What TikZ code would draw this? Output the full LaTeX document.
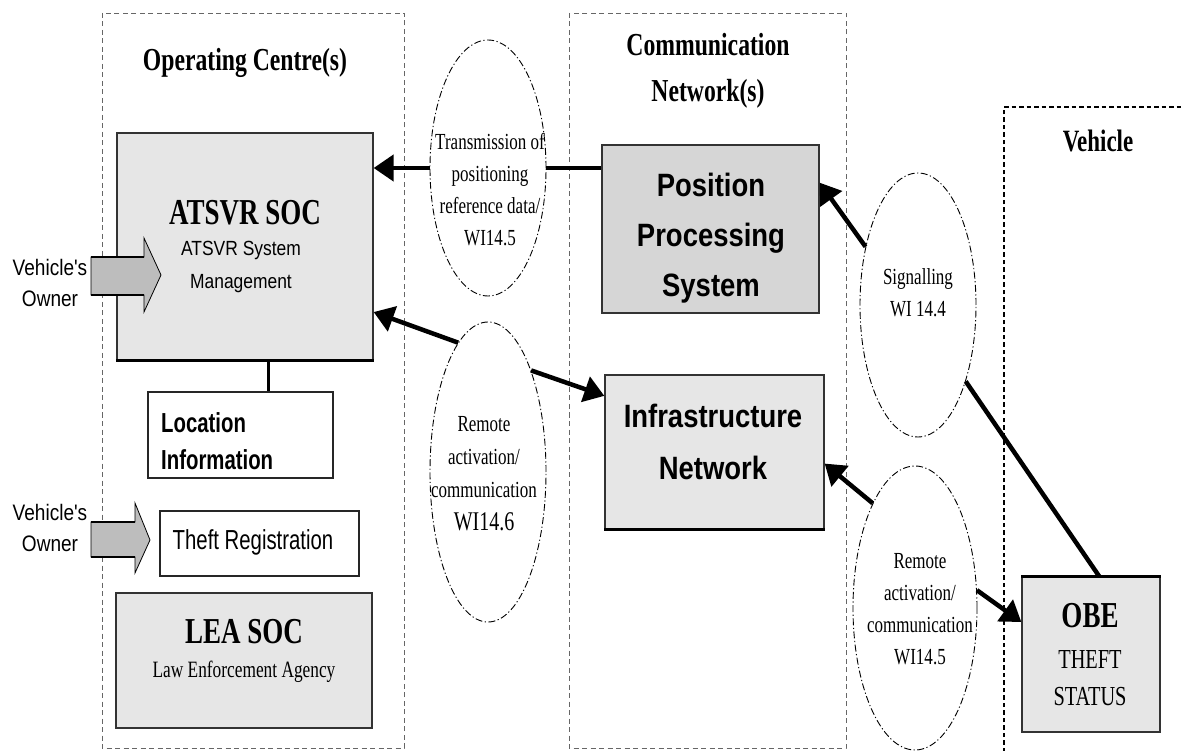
\documentclass[tikz,border=0pt]{standalone}
\usepackage{fontspec}
\setmainfont{Liberation Serif}
\newfontfamily\serifc[FakeStretch=0.74]{Liberation Serif}
\newfontfamily\sansc[FakeStretch=0.85]{Liberation Sans}
\newfontfamily\sansn[FakeStretch=0.74]{Liberation Sans}
\usetikzlibrary{arrows.meta,shapes.geometric,calc}
\definecolor{boxgray}{HTML}{E6E6E6}
\definecolor{ppsgray}{HTML}{D6D6D6}
\definecolor{ownergray}{HTML}{BDBDBD}
\newcommand{\fs}[2]{\fontsize{#1}{#2}\selectfont}
\begin{document}
\begin{tikzpicture}[x=1pt,y=-1pt,
  frame/.style={draw=black!60, line width=0.9pt, dash pattern=on 5pt off 3.5pt},
  vframe/.style={draw=black, line width=1.3pt, dash pattern=on 4.5pt off 3pt},
  box/.style={draw=black!80, line width=1.3pt, fill=boxgray, inner sep=0pt},
  wbox/.style={draw=black!85, line width=1.5pt, fill=white, inner sep=0pt},
  bubble/.style={ellipse, draw=black, line width=0.9pt, dash pattern=on 7pt off 2.5pt on 1.2pt off 2.5pt, inner sep=0pt},
  conn/.style={line width=4.5pt, draw=black},
  tip/.style={-{Triangle[length=20pt,width=26pt]}},
  owner/.style={fill=ownergray, draw=black, line width=0.8pt},
  lbl/.style={inner sep=0pt, align=center},
]
\useasboundingbox (0,0) rectangle (1184,751);
\fill[white] (0,0) rectangle (1184,751);

% frames
\draw[frame] (102,13) rectangle (404,748);
\draw[frame] (569,13) rectangle (846,748);
\draw[vframe] (1004,752) -- (1004,107) -- (1190,107);

% titles
\node[lbl, font=\serifc\bfseries\fs{32}{46}] (optitle) at (245,63) {Operating Centre(s)};
\node[lbl, font=\serifc\bfseries\fs{32}{46}] (commtitle) at (708,71) {Communication\\Network(s)};
\node[lbl, font=\serifc\bfseries\fs{31}{46}] (vehtitle) at (1098,141) {Vehicle};

% boxes
\node[box, minimum width=256pt, minimum height=227pt] (atsvr) at (245,246.5) {};
\draw[line width=3pt] (atsvr.south west) -- (atsvr.south east);
\node[lbl, font=\serifc\bfseries\fs{36.5}{40}] (atsvrT) at (245,213) {ATSVR SOC};
\node[lbl, font=\sansc\fs{20.5}{33}] (atsvrS) at (241,266.5) {ATSVR System\\Management};

\node[wbox, minimum width=185pt, minimum height=86pt] (loc) at (240.5,435) {};
\node[lbl, align=left, anchor=west, font=\sansn\bfseries\fs{27.5}{37}] (locT) at (161,441.5) {Location\\Information};
\coordinate (conx) at (268,0);
\draw[line width=3pt] (atsvr.south -| conx) -- (loc.north -| conx);

\node[wbox, line width=2pt, minimum width=199pt, minimum height=65pt] (theft) at (259.5,543.5) {};
\node[lbl, font=\sansn\fs{27.5}{30}] (theftT) at (253,542) {Theft Registration};

\node[box, minimum width=256pt, minimum height=135pt] (lea) at (244,660.5) {};
\node[lbl, font=\serifc\bfseries\fs{36.5}{40}] (leaT) at (244,632) {LEA SOC};
\node[lbl, font=\serifc\fs{23.4}{26}] (leaS) at (244,672) {Law Enforcement Agency};

\node[box, fill=ppsgray, minimum width=217pt, minimum height=168pt] (pps) at (710.5,229) {};
\node[lbl, font=\sansc\bfseries\fs{32.3}{50}] (ppsT) at (711,238) {Position\\Processing\\System};

\node[box, minimum width=219pt, minimum height=154pt] (infra) at (714.5,452) {};
\draw[line width=2.5pt] (infra.south west) -- (infra.south east);
\node[lbl, font=\sansc\bfseries\fs{32.3}{52}] (infraT) at (713,442) {Infrastructure\\Network};

\node[box, minimum width=138pt, minimum height=155pt] (obe) at (1091,654.5) {};
\draw[line width=3pt] (obe.north west) -- (obe.north east);
\node[lbl, font=\serifc\bfseries\fs{36.5}{40}] (obeT) at (1090,616) {OBE};
\node[lbl, font=\serifc\fs{27.5}{37}] (obeS) at (1090,678) {THEFT\\STATUS};

% bubbles
\node[bubble, minimum width=116pt, minimum height=256pt] (e1) at (488,168) {};
\node[lbl, font=\serifc\fs{23}{32}] (e1T) at (490,190) {Transmission of\\positioning\\reference data/\\WI14.5};
\node[bubble, minimum width=116pt, minimum height=300pt] (e2) at (488,472) {};
\node[lbl, font=\serifc\fs{23}{33}] (e2T) at (484,474) {Remote\\activation/\\communication\\{\fs{27}{33}WI14.6}};
\node[bubble, minimum width=116pt, minimum height=264pt] (e3) at (918,305) {};
\node[lbl, font=\serifc\fs{23}{32}] (e3T) at (918,293) {Signalling\\WI 14.4};
\node[bubble, minimum width=124pt, minimum height=284pt] (e4) at (915,608) {};
\node[lbl, font=\serifc\fs{23}{32}] (e4T) at (920,609) {Remote\\activation/\\communication\\WI14.5};

% connectors
\draw[conn,tip] (e1.west) -- (e1.west -| atsvr.east);
\draw[conn] (e1.east) -- (e1.east -| pps.west);
\draw[conn,tip] (e2.103) -- (atsvr.-27.1);
\draw[conn,tip] (e2.67.2) -- (infra.153.3);
\draw[conn,tip] (e3.132.9) -- (pps.23);
\draw[conn] (e3.-58.9) -- (obe.84.8);
\draw[conn,tip] (e4.112.6) -- (infra.-6.8);
\draw[conn,tip] (e4.16.2) -- (obe.155.5);

% vehicle's owner block arrows
\draw[owner] (91,257) -- (144,257) -- (144,238) -- (161,275) -- (144,312) -- (144,295) -- (91,295) -- cycle;
\draw[line width=2.2pt] (91,257) -- (144,257) (91,295) -- (144,295);
\node[lbl, font=\sansc\fs{22.4}{31}] (own1) at (50,283) {Vehicle's\\Owner};
\draw[owner] (91,522) -- (135,522) -- (135,503) -- (150,540) -- (135,573) -- (135,557) -- (91,557) -- cycle;
\draw[line width=2.2pt] (91,522) -- (135,522) (91,557) -- (135,557);
\node[lbl, font=\sansc\fs{22.4}{31}] (own2) at (50,528) {Vehicle's\\Owner};
\end{tikzpicture}
\end{document}
